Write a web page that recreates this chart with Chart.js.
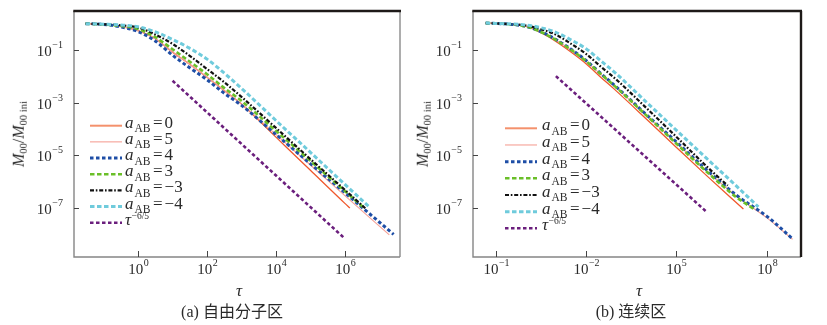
<!DOCTYPE html>
<html>
<head>
<meta charset="utf-8">
<script src="https://cdn.jsdelivr.net/npm/chart.js@4.4.1/dist/chart.umd.min.js"></script>
<style>
  body { margin: 0; background: #fff; }
  #wrap { position: relative; width: 827px; height: 325px; overflow: hidden;
          font-family: "Liberation Serif", "DejaVu Serif", "Noto Sans CJK SC", serif; color: #2a2a2a; }
  canvas { position: absolute; top: 0; }
  .lbl { position: absolute; white-space: nowrap; transform: translate(-50%, -50%); line-height: 1; }
  .ytitle { transform: translate(-50%, -50%) rotate(-90deg); font-size: 16px; }
  .ytitle sub { font-size: 10.5px; vertical-align: -3px; }
  .xtitle { font-size: 17px; font-style: italic; }
  .cap { font-size: 16px; }
</style>
</head>
<body>
<div id="wrap">
  <canvas id="chartA" width="412" height="325" style="left:0"></canvas>
  <canvas id="chartB" width="415" height="325" style="left:412px"></canvas>

  <div class="lbl ytitle" style="left:20px;top:134px"><i>M</i><sub>00</sub>/<i>M</i><sub>00&nbsp;ini</sub></div>
  <div class="lbl xtitle" style="left:239px;top:290px">τ</div>
  <div class="lbl cap" style="left:232px;top:312px">(a) 自由分子区</div>

  <div class="lbl ytitle" style="left:424px;top:134px"><i>M</i><sub>00</sub>/<i>M</i><sub>00&nbsp;ini</sub></div>
  <div class="lbl xtitle" style="left:639px;top:290px">τ</div>
  <div class="lbl cap" style="left:631px;top:312px">(b) 连续区</div>
</div>

<script>
// ---- data ----
// legend values of a_AB, in series order
const legendValues = ['0', '5', '4', '3', '\u22123', '\u22124'];

// (a) free molecular regime
const tauLeft = [0.03, 0.1, 0.3, 1, 3, 10, 30, 100, 300, 1e3, 1e4, 1e5, 1e6];
const leftA0  = [1.0, 0.93, 0.79, 0.54, 0.28, 0.083, 0.030, 0.0093, 0.0030, 8.9e-4, 4.9e-5, 2.7e-6, 1.5e-7];
const leftA5  = [1.0, 0.93, 0.79, 0.54, 0.28, 0.083, 0.030, 0.0093, 0.0030, 8.9e-4, 6.2e-5, 4.3e-6, 2.95e-7];
const leftA4  = [1.0, 0.93, 0.76, 0.50, 0.23, 0.063, 0.022, 0.0074, 0.0024, 7.9e-4, 6.2e-5, 4.8e-6, 3.8e-7];
const leftA3  = [1.0, 0.93, 0.83, 0.63, 0.32, 0.107, 0.038, 0.012, 0.0038, 1.17e-3, 8.5e-5, 6.2e-6, 4.4e-7];
const leftAm3 = [1.0, 0.95, 0.87, 0.71, 0.40, 0.17, 0.063, 0.019, 0.0063, 1.66e-3, 1.1e-4, 7.2e-6, 4.9e-7];
const leftAm4 = [1.0, 0.95, 0.89, 0.76, 0.50, 0.25, 0.12, 0.045, 0.014, 3.5e-3, 2.1e-4, 1.3e-5, 7.9e-7];
const leftEndTau = [1.4e6, 1.95e7, 2.6e7, 3.8e6, 4.0e6, 5.2e6];
const leftEndVal = [1.0e-7, 9.5e-9, 1.0e-8, 9.5e-8, 9.5e-8, 1.07e-7];
const leftRefTau = [10, 9e5];
const leftRefVal = [6.8e-3, 7.8e-9];

// (b) continuum regime
const tauRight = [0.047, 0.1, 1, 3, 10, 30, 100, 300, 1e3, 1e4, 1e5, 1e6, 1e7, 1e8];
const rightA0  = [1.05, 1.02, 0.78, 0.47, 0.21, 0.087, 0.030, 0.0095, 0.0028, 2.4e-4, 2.0e-5, 1.7e-6, null, null];
const rightA5  = [1.05, 1.02, 0.79, 0.50, 0.24, 0.105, 0.037, 0.0123, 0.0037, 3.3e-4, 3.0e-5, 2.6e-6, 2.75e-7, 4.2e-8];
const rightA4  = [1.05, 1.02, 0.79, 0.51, 0.25, 0.112, 0.040, 0.0132, 0.0040, 3.5e-4, 3.2e-5, 2.8e-6, 3.0e-7, 4.8e-8];
const rightA3  = [1.05, 1.02, 0.79, 0.50, 0.24, 0.107, 0.038, 0.0126, 0.0038, 3.3e-4, 2.75e-5, 2.4e-6, 2.5e-7, null];
const rightAm3 = [1.05, 1.02, 0.85, 0.63, 0.38, 0.18, 0.071, 0.024, 0.0076, 6.3e-4, 5.0e-5, 3.8e-6, null, null];
const rightAm4 = [1.05, 1.02, 0.89, 0.71, 0.47, 0.25, 0.112, 0.040, 0.0126, 1.05e-3, 8.9e-5, 7.6e-6, 6.6e-7, null];
const rightEndTau = [1.66e7, 7.1e8, 7.4e8, 4.1e7, 5.0e6, 5.2e7];
const rightEndVal = [9.1e-8, 6.5e-9, 6.5e-9, 8.5e-8, 7.1e-7, 1.1e-7];
const rightRefTau = [10, 1e6];
const rightRefVal = [0.0102, 7.1e-8];

// axis ticks
const yTickVals = [1e-1, 1e-3, 1e-5, 1e-7];
const yTickExps = ['\u22121', '\u22123', '\u22125', '\u22127'];
const leftXTickVals = [1, 1e2, 1e4, 1e6];
const leftXTickExps = ['0', '2', '4', '6'];
const rightXTickVals = [1e-1, 1e2, 1e5, 1e8];
const rightXTickExps = ['\u22121', '\u22122', '5', '8'];   // as printed in the figure

// ---- styles ----
const SERIF = '"Liberation Serif", "DejaVu Serif", serif';
const seriesStyles = [
  { color: '#f0582c', width: 1.3, dash: [] },               // a_AB = 0
  { color: '#f5a096', width: 1.1, dash: [] },               // a_AB = 5
  { color: '#1e4ea6', width: 3, dash: [3.5, 2.5] },         // a_AB = 4
  { color: '#6abf28', width: 2.6, dash: [4.5, 2.5] },       // a_AB = 3
  { color: '#111111', width: 2.2, dash: [4, 1.8, 1.6, 1.8] }, // a_AB = -3
  { color: '#6fcbdc', width: 3, dash: [4.5, 2.5] },         // a_AB = -4
  { color: '#6b1f7d', width: 2.6, dash: [3.5, 2.5] }        // tau^-6/5
];
const legendSampleColors = ['#f4916c', '#f5a096'];
const drawOrder = [7, 6, 5, 4, 3, 2, 1];

function toPoints(tau, vals, endTau, endVal) {
  const pts = [];
  tau.forEach((t, i) => {
    if (vals[i] != null) pts.push({ x: t, y: vals[i] });
  });
  if (endTau != null) pts.push({ x: endTau, y: endVal });
  return pts;
}

function buildDatasets(tau, seriesVals, endTau, endVal, refTau, refVal) {
  const sets = seriesVals.map((vals, i) => ({
    data: toPoints(tau, vals, endTau[i], endVal[i])
  }));
  sets.push({ data: refTau.map((t, i) => ({ x: t, y: refVal[i] })) });
  return sets.map((ds, i) => Object.assign(ds, {
    borderColor: seriesStyles[i].color,
    borderWidth: seriesStyles[i].width,
    borderDash: seriesStyles[i].dash,
    pointRadius: 0,
    fill: false,
    cubicInterpolationMode: 'monotone',
    order: drawOrder[i]
  }));
}

function drawPower(ctx, x, y, exp, align, baseSize, supSize, supRise) {
  ctx.font = baseSize + 'px ' + SERIF;
  const wb = ctx.measureText('10').width;
  ctx.font = supSize + 'px ' + SERIF;
  const ws = ctx.measureText(exp).width;
  const total = wb + 0.5 + ws;
  const x0 = align === 'right' ? x - total : x - total / 2;
  ctx.textAlign = 'left';
  ctx.textBaseline = 'alphabetic';
  ctx.font = baseSize + 'px ' + SERIF;
  ctx.fillText('10', x0, y);
  ctx.font = supSize + 'px ' + SERIF;
  ctx.fillText(exp, x0 + wb + 0.5, y - supRise);
}

// frame, inward ticks, power-of-ten labels and the legend
const framePlugin = {
  id: 'frame',
  afterDraw(chart, args, opts) {
    const ctx = chart.ctx;
    const ca = chart.chartArea;
    const xs = chart.scales.x;
    const ys = chart.scales.y;
    ctx.save();
    ctx.setLineDash([]);

    // frame
    ctx.lineWidth = 1.4;
    ctx.strokeStyle = '#858585';
    ctx.beginPath();
    ctx.moveTo(ca.left, ca.top); ctx.lineTo(ca.left, ca.bottom); ctx.lineTo(ca.right, ca.bottom);
    ctx.stroke();
    ctx.strokeStyle = opts.rightDark ? '#1e1a18' : '#8a8a8a';
    ctx.lineWidth = opts.rightDark ? 2.4 : 1.4;
    ctx.beginPath(); ctx.moveTo(ca.right, ca.top); ctx.lineTo(ca.right, ca.bottom); ctx.stroke();
    ctx.strokeStyle = '#1e1a18';
    ctx.lineWidth = 2.4;
    ctx.beginPath(); ctx.moveTo(ca.left - 0.7, ca.top); ctx.lineTo(ca.right + 1, ca.top); ctx.stroke();

    // ticks
    ctx.strokeStyle = '#444';
    ctx.lineWidth = 1;
    ctx.fillStyle = '#2a2a2a';
    yTickVals.forEach((v, i) => {
      const y = Math.round(ys.getPixelForValue(v)) + 0.5;
      ctx.beginPath(); ctx.moveTo(ca.left, y); ctx.lineTo(ca.left + 5, y); ctx.stroke();
      drawPower(ctx, ca.left - 11, y + 5.5, yTickExps[i], 'right', 15, 10, 8.5);
    });
    opts.xTickVals.forEach((v, i) => {
      const x = Math.round(xs.getPixelForValue(v)) + 0.5;
      ctx.beginPath(); ctx.moveTo(x, ca.bottom); ctx.lineTo(x, ca.bottom - 6); ctx.stroke();
      drawPower(ctx, x, ca.bottom + 17, opts.xTickExps[i], 'center', 15, 10, 8.5);
    });

    // legend
    const lg = opts.legend;
    chart.data.datasets.forEach((ds, i) => {
      const y = lg.y0 + i * lg.gap;
      ctx.strokeStyle = legendSampleColors[i] || ds.borderColor;
      ctx.lineWidth = i === 0 ? 2 : ds.borderWidth;
      ctx.setLineDash(ds.borderDash);
      ctx.beginPath(); ctx.moveTo(lg.x0, y); ctx.lineTo(lg.x1, y); ctx.stroke();
      ctx.setLineDash([]);
      ctx.fillStyle = '#2a2a2a';
      ctx.textAlign = 'left';
      let x = lg.tx;
      if (i < legendValues.length) {
        ctx.font = 'italic 17px ' + SERIF;
        ctx.fillText('a', x, y + 2);
        x += ctx.measureText('a').width + 1;
        ctx.font = '11.5px ' + SERIF;
        ctx.fillText('AB', x, y + 6.5);
        x += ctx.measureText('AB').width + 2.5;
        ctx.font = '17px ' + SERIF;
        ctx.fillText('=', x, y + 2);
        x += ctx.measureText('=').width + 2;
        ctx.fillText(legendValues[i], x, y + 2);
      } else {
        ctx.font = 'italic 17px ' + SERIF;
        ctx.fillText('\u03c4', x, y + 2);
        x += ctx.measureText('\u03c4').width + 0.5;
        ctx.font = '9.5px ' + SERIF;
        ctx.fillText('\u22126/5', x, y - 4);
      }
    });
    ctx.restore();
  }
};

function makeChart(id, cfg) {
  return new Chart(document.getElementById(id), {
    type: 'line',
    data: { datasets: cfg.datasets },
    options: {
      responsive: false,
      animation: false,
      events: [],
      layout: { padding: { top: 11, right: cfg.padRight, left: 0, bottom: 0 } },
      plugins: {
        legend: { display: false },
        tooltip: { enabled: false },
        frame: {
          xTickVals: cfg.xTickVals,
          xTickExps: cfg.xTickExps,
          rightDark: cfg.rightDark,
          legend: cfg.legend
        }
      },
      scales: {
        x: {
          type: 'logarithmic', min: cfg.xMin, max: cfg.xMax,
          grid: { display: false }, border: { display: false }, ticks: { display: false },
          afterFit: (s) => { s.height = 68; }
        },
        y: {
          type: 'logarithmic', min: 1.38e-9, max: 3.02,
          grid: { display: false }, border: { display: false }, ticks: { display: false },
          afterFit: (s) => { s.width = cfg.yWidth; }
        }
      }
    },
    plugins: [framePlugin]
  });
}

makeChart('chartA', {
  datasets: buildDatasets(tauLeft, [leftA0, leftA5, leftA4, leftA3, leftAm3, leftAm4],
                          leftEndTau, leftEndVal, leftRefTau, leftRefVal),
  xMin: 0.0138, xMax: 3.98e7,
  xTickVals: leftXTickVals, xTickExps: leftXTickExps,
  yWidth: 74, padRight: 12, rightDark: false,
  legend: { x0: 90, x1: 122, tx: 125, y0: 125.7, gap: 16.17 }
});

makeChart('chartB', {
  datasets: buildDatasets(tauRight, [rightA0, rightA5, rightA4, rightA3, rightAm3, rightAm4],
                          rightEndTau, rightEndVal, rightRefTau, rightRefVal),
  xMin: 0.0178, xMax: 1.35e9,
  xTickVals: rightXTickVals, xTickExps: rightXTickExps,
  yWidth: 61, padRight: 26, rightDark: true,
  legend: { x0: 93, x1: 125, tx: 130, y0: 128.3, gap: 16.67 }
});
</script>
</body>
</html>
